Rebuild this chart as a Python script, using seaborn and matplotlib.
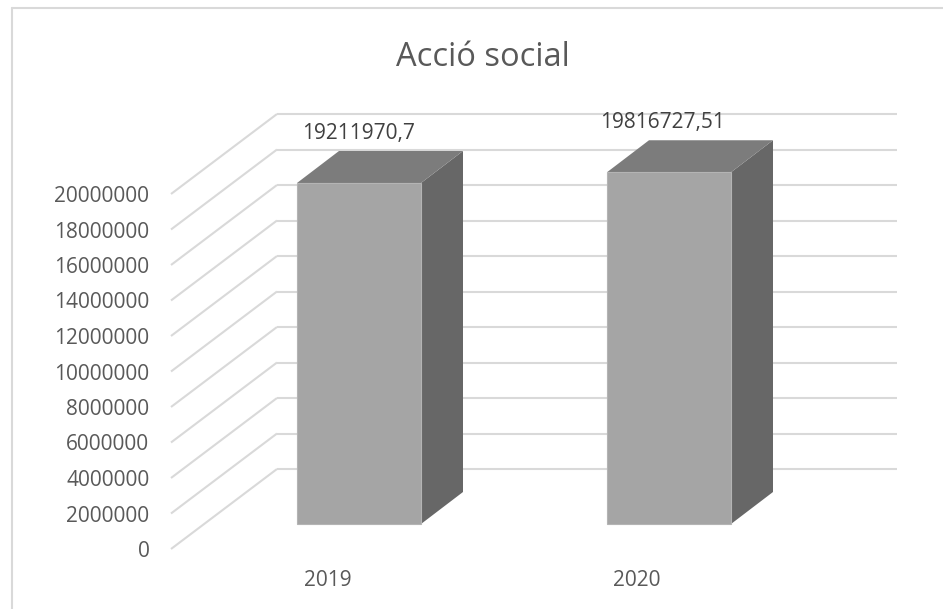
import matplotlib.pyplot as plt
import numpy as np
import pandas as pd
import seaborn as sns
from matplotlib.lines import Line2D

years = ['2019', '2020']
values = [19211970.7, 19816727.51]
value_labels = ['19211970,7', '19816727,51']
ticks = list(range(0, 22000000, 2000000))
title = 'Acció social'

sns.set_theme(style='white')
plt.rcParams['font.family'] = ['Open Sans', 'DejaVu Sans']

W, H = 943, 609
fig = plt.figure(figsize=(W / 100, H / 100), dpi=100)
ax = fig.add_axes([0, 0, 1, 1])

# scales: one category = 310 px, 2M = 35.5 px, bar plane origin at (359, 524)
px_x = 1 / 310
px_y = 2000000 / 35.5

# fake 3d depth, in pixels relative to the plane of the bar fronts
front = (-33 * px_x, -25 * px_y)
back = (73 * px_x, 55 * px_y)
bar_depth = (42 * px_x, 32 * px_y)
grid_color = '#D9D9D9'

df = pd.DataFrame({'year': years, 'value': values})
sns.barplot(data=df, x='year', y='value', color='#A5A5A5', saturation=1,
            width=0.4, ax=ax, zorder=3, edgecolor='#B4B4B4', linewidth=0.8)
ax.set_xlim(-359 * px_x, (W - 359) * px_x)
ax.set_ylim(-(H - 524) * px_y, 524 * px_y)
ax.axis('off')

# back wall and left wall gridlines
for t in ticks:
    ax.plot([-0.5 + front[0], -0.5 + back[0]], [t + front[1], t + back[1]],
            color=grid_color, lw=1.5, zorder=1, solid_capstyle='butt')
    ax.plot([-0.5 + back[0], 1.5 + back[0]], [t + back[1], t + back[1]],
            color=grid_color, lw=1.5, zorder=1, solid_capstyle='butt')
    ax.annotate(str(t), (-0.5 + front[0], t + front[1]), xytext=(-15.5, 0),
                textcoords='offset points', ha='right', va='center_baseline',
                fontsize=15, color='#595959')

# top and side faces of the bars
for bar, val in zip(ax.patches, values):
    x0 = bar.get_x()
    x1 = x0 + bar.get_width()
    dx, dy = bar_depth
    ax.fill([x1, x1 + dx, x1 + dx, x1], [0, dy, val + dy, val],
            color='#676767', lw=0, zorder=2)
    ax.fill([x0, x1, x1 + dx, x0 + dx], [val, val, val + dy, val + dy],
            color='#7C7C7C', lw=0, zorder=2)

label_nudge = [0, -6]
for i, (val, lab) in enumerate(zip(values, value_labels)):
    ax.annotate(lab, (i, val), xytext=(label_nudge[i] * 0.72, 52 * 0.72),
                textcoords='offset points', ha='center', va='center_baseline',
                fontsize=15, color='#404040')

year_nudge = [2, 1]
for i, year in enumerate(years):
    ax.annotate(year, (i + front[0], front[1]), xytext=(year_nudge[i] * 0.72, -29 * 0.72),
                textcoords='offset points', ha='center', va='center_baseline',
                fontsize=15, color='#595959')

fig.text(483 / W, 1 - 57 / H, title, ha='center', va='center',
         fontsize=23.5, color='#595959')

# chart frame, right and bottom edges are cut off by the picture
fig.add_artist(Line2D([12 / W, 12 / W], [0, 1 - 8 / H], color=grid_color, lw=1.5))
fig.add_artist(Line2D([12 / W, 1], [1 - 8 / H, 1 - 8 / H], color=grid_color, lw=1.5))

fig.savefig('out.png', dpi=100)
